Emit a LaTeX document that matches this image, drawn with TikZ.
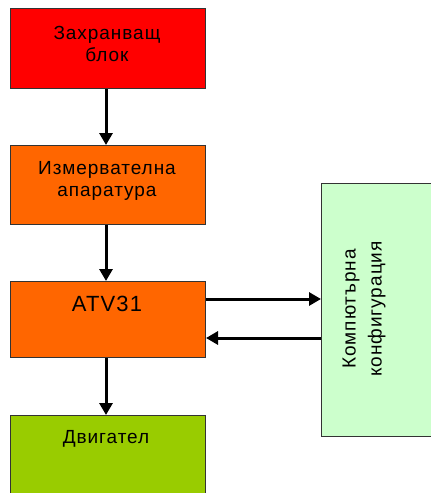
\documentclass[tikz,border=0pt]{standalone}
\usepackage{fontspec}
\setmainfont{Liberation Sans}
\newfontfamily\lsfont[LetterSpace=5]{Liberation Sans}
\usetikzlibrary{arrows.meta}
\definecolor{cRed}{HTML}{FF0000}
\definecolor{cOrange}{HTML}{FF6600}
\definecolor{cGreen}{HTML}{99CC00}
\definecolor{cLight}{HTML}{CCFFCC}
\definecolor{cBorder}{HTML}{333333}
\begin{document}
\begin{tikzpicture}[x=1pt,y=-1pt,
  blockbox/.style={draw=cBorder,line width=1pt,inner sep=0pt,anchor=north west,
    minimum width=195pt,minimum height=#1},
  lbl/.style={font=\lsfont\fontsize{19}{22}\selectfont,align=center,inner sep=0pt,text=black},
  conn/.style={line width=3pt,-{Triangle[width=13pt,length=12pt]}}]
\useasboundingbox (0,0) rectangle (431,493);
\clip (0,0) rectangle (431,493);
\fill[white] (0,0) rectangle (431,493);
\node[blockbox=80pt,fill=cRed] (b1) at (10,8) {};
\node[blockbox=79pt,fill=cOrange] (b2) at (10,145) {};
\node[blockbox=76pt,fill=cOrange] (b3) at (10,281) {};
\node[blockbox=100pt,fill=cGreen] (b4) at (10,415) {};
\node[draw=cBorder,line width=1pt,inner sep=0pt,anchor=north west,fill=cLight,
  minimum width=130pt,minimum height=253pt] (b5) at (321,183) {};
\node[lbl] (t1) at (107,44) {Захранващ\\блок};
\node[lbl] (t2) at (107,181) {Измервателна\\апаратура};
\node[lbl,font=\lsfont\fontsize{22}{24}\selectfont,anchor=base] (t3) at (107,311) {ATV31};
\node[lbl,anchor=base] (t4) at (106,443) {Двигател};
\node[lbl,font=\lsfont\fontsize{19}{26}\selectfont,rotate=90] (t5) at (364,309) {Компютърна\\конфигурация};
\draw[conn] (b1.south -| 106,0) -- (b2.north -| 106,0);
\draw[conn] (b2.south -| 106,0) -- (b3.north -| 106,0);
\draw[conn] (b3.south -| 106,0) -- (b4.north -| 106,0);
\draw[conn] (b3.east |- 0,299) -- (b5.west |- 0,299);
\draw[conn] (b5.west |- 0,338) -- (b3.east |- 0,338);
\end{tikzpicture}
\end{document}
